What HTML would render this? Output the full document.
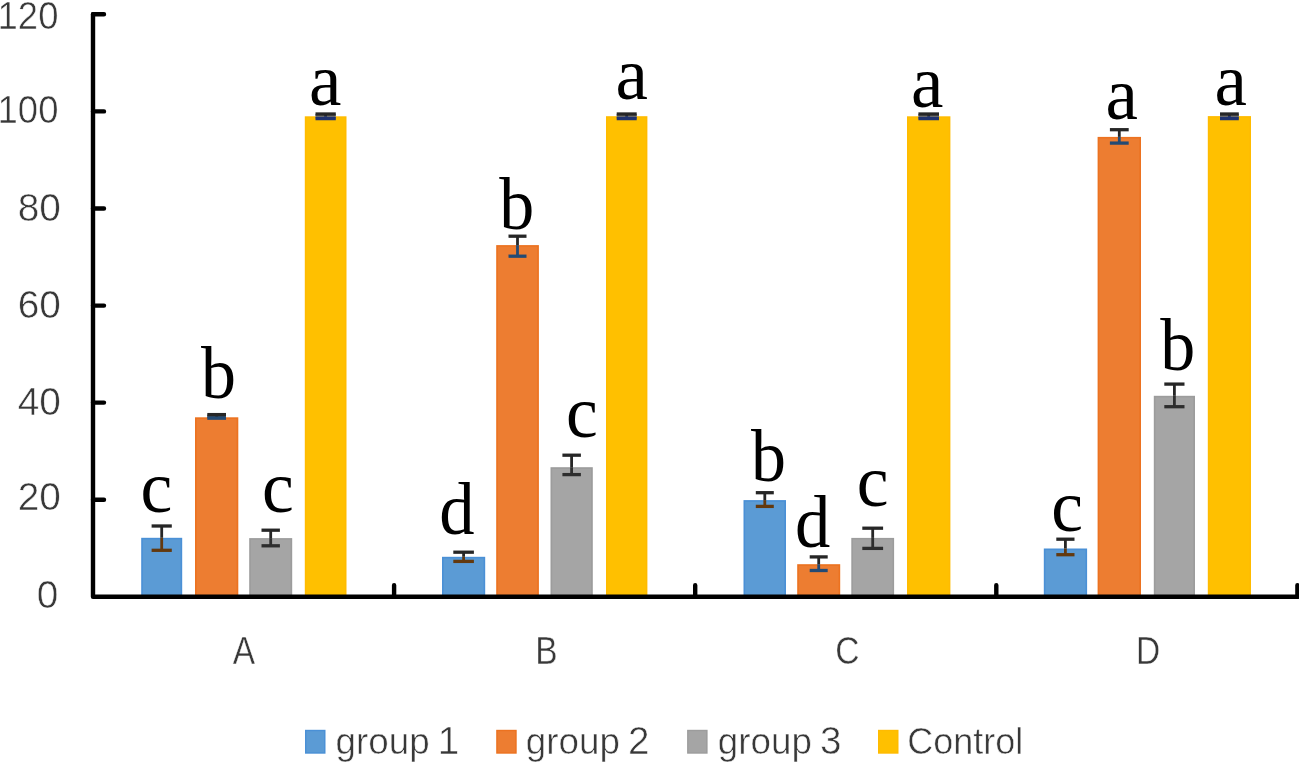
<!DOCTYPE html>
<html lang="en"><head><meta charset="utf-8"><title>Bar chart</title>
<style>
html,body{margin:0;padding:0;background:#fff;}
body{width:1299px;height:762px;overflow:hidden;}
svg{display:block;}
.ax{stroke:#000;stroke-width:4.40;stroke-linecap:round;stroke-linejoin:round;fill:none;}
.eb{stroke:#262626;stroke-width:3.3;fill:none;}
.ebv{stroke:#262626;stroke-width:2.8;fill:none;}
.ser{font-family:"Liberation Serif","DejaVu Serif",serif;font-size:73px;fill:#000;}
.san{font-family:"Liberation Sans","DejaVu Sans",sans-serif;fill:#383838;stroke:#fff;stroke-width:0.55px;paint-order:fill stroke;}
</style></head><body>
<svg width="1299" height="762" viewBox="0 0 1299 762">
<rect x="0" y="0" width="1299" height="762" fill="#fff"/>
<rect x="141.2" y="537.8" width="41.0" height="59.0" fill="#4a90d6"/>
<rect x="142.8" y="539.4" width="37.8" height="57.4" fill="#5B9BD5"/>
<rect x="195.0" y="417.3" width="43.3" height="179.5" fill="#ec7220"/>
<rect x="196.6" y="418.9" width="40.1" height="177.9" fill="#ED7D31"/>
<rect x="249.2" y="538.1" width="43.0" height="58.7" fill="#9c9c9c"/>
<rect x="250.8" y="539.7" width="39.8" height="57.1" fill="#A5A5A5"/>
<rect x="304.8" y="116.3" width="41.7" height="480.5" fill="#ffbb00"/>
<rect x="306.4" y="117.9" width="38.5" height="478.9" fill="#FFC000"/>
<rect x="442.0" y="556.8" width="43.2" height="40.0" fill="#4a90d6"/>
<rect x="443.6" y="558.4" width="40.0" height="38.4" fill="#5B9BD5"/>
<rect x="496.2" y="245.1" width="42.7" height="351.7" fill="#ec7220"/>
<rect x="497.8" y="246.7" width="39.5" height="350.1" fill="#ED7D31"/>
<rect x="550.5" y="467.2" width="42.3" height="129.6" fill="#9c9c9c"/>
<rect x="552.1" y="468.8" width="39.1" height="128.0" fill="#A5A5A5"/>
<rect x="606.0" y="116.2" width="41.4" height="480.6" fill="#ffbb00"/>
<rect x="607.6" y="117.8" width="38.2" height="479.0" fill="#FFC000"/>
<rect x="743.5" y="500.1" width="42.5" height="96.7" fill="#4a90d6"/>
<rect x="745.1" y="501.7" width="39.3" height="95.1" fill="#5B9BD5"/>
<rect x="797.2" y="564.2" width="43.0" height="32.6" fill="#ec7220"/>
<rect x="798.8" y="565.8" width="39.8" height="31.0" fill="#ED7D31"/>
<rect x="851.3" y="537.9" width="42.8" height="58.9" fill="#9c9c9c"/>
<rect x="852.9" y="539.5" width="39.6" height="57.3" fill="#A5A5A5"/>
<rect x="907.0" y="116.3" width="43.4" height="480.5" fill="#ffbb00"/>
<rect x="908.6" y="117.9" width="40.2" height="478.9" fill="#FFC000"/>
<rect x="1043.8" y="548.5" width="43.3" height="48.3" fill="#4a90d6"/>
<rect x="1045.4" y="550.1" width="40.1" height="46.7" fill="#5B9BD5"/>
<rect x="1097.6" y="136.9" width="43.4" height="459.9" fill="#ec7220"/>
<rect x="1099.2" y="138.5" width="40.2" height="458.3" fill="#ED7D31"/>
<rect x="1153.8" y="395.8" width="41.2" height="201.0" fill="#9c9c9c"/>
<rect x="1155.4" y="397.4" width="38.0" height="199.4" fill="#A5A5A5"/>
<rect x="1207.8" y="116.1" width="43.2" height="480.7" fill="#ffbb00"/>
<rect x="1209.4" y="117.7" width="40.0" height="479.1" fill="#FFC000"/>
<path class="ebv" d="M161.7 526.0V537.8"/>
<path class="ebv" style="stroke:#63390f" d="M161.7 537.8V550.3"/>
<path class="eb" d="M151.6 526.0H171.8"/>
<path class="eb" style="stroke:#63390f" d="M151.6 550.3H171.8"/>
<rect x="207.3" y="414.6" width="18.6" height="3.6" fill="#3a4a5a"/>
<path class="ebv" d="M216.7 414.6V417.3"/>
<path class="ebv" style="stroke:#234a74" d="M216.7 417.3V418.2"/>
<path class="eb" d="M207.3 414.6H226.0"/>
<path class="eb" style="stroke:#234a74" d="M207.3 418.2H226.0"/>
<path class="ebv" d="M270.7 530.2V538.1"/>
<path class="ebv" style="stroke:#2e2e2e" d="M270.7 538.1V545.8"/>
<path class="eb" d="M261.5 530.2H279.9"/>
<path class="eb" style="stroke:#2e2e2e" d="M261.5 545.8H279.9"/>
<rect x="315.5" y="114.0" width="20.2" height="4.6" fill="#6e6e6e"/>
<path class="ebv" d="M325.6 114.0V116.3"/>
<path class="ebv" style="stroke:#1f3270" d="M325.6 116.3V118.6"/>
<path class="eb" d="M315.5 114.0H335.8"/>
<path class="eb" style="stroke:#1f3270" d="M315.5 118.6H335.8"/>
<path class="ebv" d="M463.6 552.2V556.8"/>
<path class="ebv" style="stroke:#63390f" d="M463.6 556.8V561.4"/>
<path class="eb" d="M453.3 552.2H473.9"/>
<path class="eb" style="stroke:#63390f" d="M453.3 561.4H473.9"/>
<path class="ebv" d="M517.5 236.2V245.1"/>
<path class="ebv" style="stroke:#234a74" d="M517.5 245.1V256.2"/>
<path class="eb" d="M508.5 236.2H526.5"/>
<path class="eb" style="stroke:#234a74" d="M508.5 256.2H526.5"/>
<path class="ebv" d="M571.6 455.2V467.2"/>
<path class="ebv" style="stroke:#2e2e2e" d="M571.6 467.2V474.6"/>
<path class="eb" d="M562.4 455.2H580.9"/>
<path class="eb" style="stroke:#2e2e2e" d="M562.4 474.6H580.9"/>
<rect x="616.7" y="114.0" width="20.0" height="4.6" fill="#6e6e6e"/>
<path class="ebv" d="M626.7 114.0V116.2"/>
<path class="ebv" style="stroke:#1f3270" d="M626.7 116.2V118.6"/>
<path class="eb" d="M616.7 114.0H636.7"/>
<path class="eb" style="stroke:#1f3270" d="M616.7 118.6H636.7"/>
<path class="ebv" d="M764.8 492.7V500.1"/>
<path class="ebv" style="stroke:#63390f" d="M764.8 500.1V506.4"/>
<path class="eb" d="M755.8 492.7H773.8"/>
<path class="eb" style="stroke:#63390f" d="M755.8 506.4H773.8"/>
<path class="ebv" d="M818.7 556.9V564.2"/>
<path class="ebv" style="stroke:#234a74" d="M818.7 564.2V570.5"/>
<path class="eb" d="M809.7 556.9H827.7"/>
<path class="eb" style="stroke:#234a74" d="M809.7 570.5H827.7"/>
<path class="ebv" d="M872.7 528.2V537.9"/>
<path class="ebv" style="stroke:#2e2e2e" d="M872.7 537.9V548.4"/>
<path class="eb" d="M862.3 528.2H883.1"/>
<path class="eb" style="stroke:#2e2e2e" d="M862.3 548.4H883.1"/>
<rect x="918.4" y="114.0" width="20.6" height="4.6" fill="#6e6e6e"/>
<path class="ebv" d="M928.7 114.0V116.3"/>
<path class="ebv" style="stroke:#1f3270" d="M928.7 116.3V118.6"/>
<path class="eb" d="M918.4 114.0H939.0"/>
<path class="eb" style="stroke:#1f3270" d="M918.4 118.6H939.0"/>
<path class="ebv" d="M1065.4 539.2V548.5"/>
<path class="ebv" style="stroke:#63390f" d="M1065.4 548.5V554.7"/>
<path class="eb" d="M1056.3 539.2H1074.5"/>
<path class="eb" style="stroke:#63390f" d="M1056.3 554.7H1074.5"/>
<path class="ebv" d="M1119.3 129.7V136.9"/>
<path class="ebv" style="stroke:#234a74" d="M1119.3 136.9V143.1"/>
<path class="eb" d="M1109.9 129.7H1128.7"/>
<path class="eb" style="stroke:#234a74" d="M1109.9 143.1H1128.7"/>
<path class="ebv" d="M1174.4 384.1V395.8"/>
<path class="ebv" style="stroke:#2e2e2e" d="M1174.4 395.8V406.7"/>
<path class="eb" d="M1164.3 384.1H1184.5"/>
<path class="eb" style="stroke:#2e2e2e" d="M1164.3 406.7H1184.5"/>
<rect x="1220.0" y="114.0" width="18.8" height="4.6" fill="#6e6e6e"/>
<path class="ebv" d="M1229.4 114.0V116.1"/>
<path class="ebv" style="stroke:#1f3270" d="M1229.4 116.1V118.6"/>
<path class="eb" d="M1220.0 114.0H1238.8"/>
<path class="eb" style="stroke:#1f3270" d="M1220.0 118.6H1238.8"/>
<path class="ax" d="M93.0 14.3V596.8H1297.5"/>
<path class="ax" d="M93.0 499.7H104.0M93.0 402.6H104.0M93.0 305.6H104.0M93.0 208.5H104.0M93.0 111.4H104.0M93.0 14.3H104.0M394.1 596.8V585.2M695.2 596.8V585.2M996.3 596.8V585.2M1297.4 596.8V585.2"/>
<text class="ser" transform="translate(140.41 512.09) scale(0.98 1)">c</text>
<text class="ser" transform="translate(200.95 397.99) scale(0.958 1)">b</text>
<text class="ser" transform="translate(262.06 512.09) scale(0.98 1)">c</text>
<text class="ser" transform="translate(308.97 104.79) scale(1 1)">a</text>
<text class="ser" transform="translate(439.26 533.99) scale(0.967 1)">d</text>
<text class="ser" transform="translate(499.25 228.99) scale(0.958 1)">b</text>
<text class="ser" transform="translate(565.91 437.39) scale(0.98 1)">c</text>
<text class="ser" transform="translate(615.42 99.39) scale(1 1)">a</text>
<text class="ser" transform="translate(751.05 481.19) scale(0.958 1)">b</text>
<text class="ser" transform="translate(794.91 547.29) scale(0.967 1)">d</text>
<text class="ser" transform="translate(856.66 505.99) scale(0.98 1)">c</text>
<text class="ser" transform="translate(911.07 107.49) scale(1 1)">a</text>
<text class="ser" transform="translate(1051.26 530.69) scale(0.98 1)">c</text>
<text class="ser" transform="translate(1105.57 118.59) scale(1 1)">a</text>
<text class="ser" transform="translate(1160.30 370.29) scale(0.958 1)">b</text>
<text class="ser" transform="translate(1214.57 104.69) scale(1 1)">a</text>
<text class="san" font-size="39.2" text-anchor="end" transform="translate(58.42 28.57) scale(0.93 1)">120</text>
<text class="san" font-size="39.2" text-anchor="end" transform="translate(58.42 122.87) scale(0.93 1)">100</text>
<text class="san" font-size="39.2" text-anchor="end" transform="translate(60.82 220.87) scale(0.99 1)">80</text>
<text class="san" font-size="39.2" text-anchor="end" transform="translate(60.82 318.27) scale(0.99 1)">60</text>
<text class="san" font-size="39.2" text-anchor="end" transform="translate(60.82 415.07) scale(0.99 1)">40</text>
<text class="san" font-size="39.2" text-anchor="end" transform="translate(60.92 510.47) scale(0.99 1)">20</text>
<text class="san" font-size="39.2" text-anchor="end" transform="translate(58.32 608.27) scale(0.99 1)">0</text>
<text class="san" font-size="37.9" text-anchor="middle" style="stroke-width:0.4px" transform="translate(244.00 664.1) scale(0.884 1)">A</text>
<text class="san" font-size="37.9" text-anchor="middle" style="stroke-width:0.4px" transform="translate(546.40 664.1) scale(0.884 1)">B</text>
<text class="san" font-size="37.9" text-anchor="middle" style="stroke-width:0.4px" transform="translate(847.30 664.1) scale(0.884 1)">C</text>
<text class="san" font-size="37.9" text-anchor="middle" style="stroke-width:0.4px" transform="translate(1148.10 664.1) scale(0.884 1)">D</text>
<rect x="305.0" y="729.8" width="20.5" height="23.9" fill="#4a90d6"/>
<rect x="306.4" y="731.2" width="17.7" height="21.1" fill="#5B9BD5"/>
<text class="san" font-size="36.8" x="335.55" y="753.7">group<tspan dx="-2.6" font-size="38.6"> 1</tspan></text>
<rect x="496.2" y="729.8" width="20.5" height="23.9" fill="#ec7220"/>
<rect x="497.6" y="731.2" width="17.7" height="21.1" fill="#ED7D31"/>
<text class="san" font-size="36.8" x="525.85" y="753.7">group<tspan dx="-2.6" font-size="38.6"> 2</tspan></text>
<rect x="687.1" y="729.8" width="20.5" height="23.9" fill="#9c9c9c"/>
<rect x="688.5" y="731.2" width="17.7" height="21.1" fill="#A5A5A5"/>
<text class="san" font-size="36.8" x="717.85" y="753.7">group<tspan dx="-2.6" font-size="38.6"> 3</tspan></text>
<rect x="878.0" y="729.8" width="20.5" height="23.9" fill="#ffbb00"/>
<rect x="879.4" y="731.2" width="17.7" height="21.1" fill="#FFC000"/>
<text class="san" font-size="36" x="907.27" y="753.7">Control</text>
</svg>
</body></html>
